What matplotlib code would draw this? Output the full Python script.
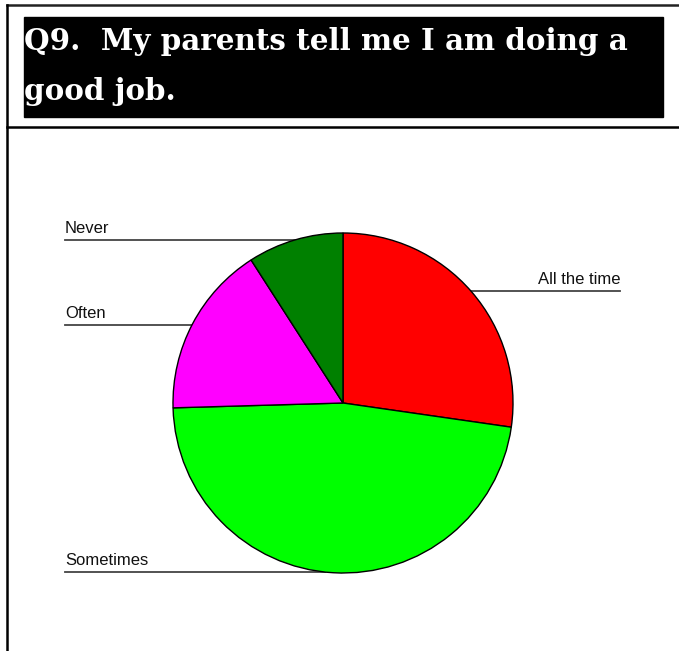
import matplotlib.pyplot as plt
import numpy as np
from matplotlib.patches import Rectangle

# survey answers, clockwise from 12 o'clock
categorias = ['All the time', 'Sometimes', 'Often', 'Never']
respostas = [30, 52, 18, 10]
cores = ['#ff0000', '#00ff00', '#ff00ff', '#008000']
titulo = ['Q9.  My parents tell me I am doing a', 'good job.']

W, H = 679, 651
fig = plt.figure(figsize=(W / 100, H / 100), dpi=100)
ax = fig.add_axes([0, 0, 1, 1])

def py(y):
    # pixel row (from top) -> data y
    return H - y

# pie
cx, cy, r = 343, py(403), 170
ax.pie(respostas, colors=cores, startangle=90, counterclock=False,
       center=(cx, cy), radius=r, frame=True,
       wedgeprops=dict(edgecolor='black', linewidth=1))
ax.set_xlim(0, W)
ax.set_ylim(0, H)
ax.set_aspect('equal')
ax.axis('off')

# frame lines
ax.plot([7, W], [py(5), py(5)], color='#222222', lw=1.8)
ax.plot([7, 7], [py(5), 0], color='black', lw=1.8)
ax.plot([7, W], [py(127), py(127)], color='black', lw=1.8)

# title box, first line sized to fill the box width
ax.add_patch(Rectangle((24, py(117)), 639, 100, color='black'))
fonte = dict(color='white', ha='left', va='baseline',
             family='DejaVu Serif', weight='semibold')
t1 = ax.text(24, py(50), titulo[0], fontsize=24, **fonte)
fig.canvas.draw()
larg = t1.get_window_extent().width
tam = 24 * 605 / larg
t1.set_fontsize(tam)
ax.text(24, py(100), titulo[1], fontsize=tam, **fonte)

# leader lines: label row in pixels, side
rotulos = {'All the time': (291, 'right'), 'Sometimes': (572, 'left'),
           'Often': (325, 'left'), 'Never': (240, 'left')}
for nome in categorias:
    linha_y, lado = rotulos[nome]
    yl = py(linha_y)
    dx = np.sqrt(max(r ** 2 - (yl - cy) ** 2, 0))
    if lado == 'left':
        x0, x1 = 65, cx - dx
        ax.text(65, yl + 7, nome, fontsize=12, ha='left', va='baseline',
                family='Liberation Sans', color='#111111')
    else:
        x0, x1 = cx + dx, 620
        ax.text(620, yl + 7, nome, fontsize=12, ha='right', va='baseline',
                family='Liberation Sans', color='#111111')
    ax.plot([x0, x1], [yl, yl], color='#444444', lw=1.3, zorder=0)

fig.savefig('out.png', dpi=100)
